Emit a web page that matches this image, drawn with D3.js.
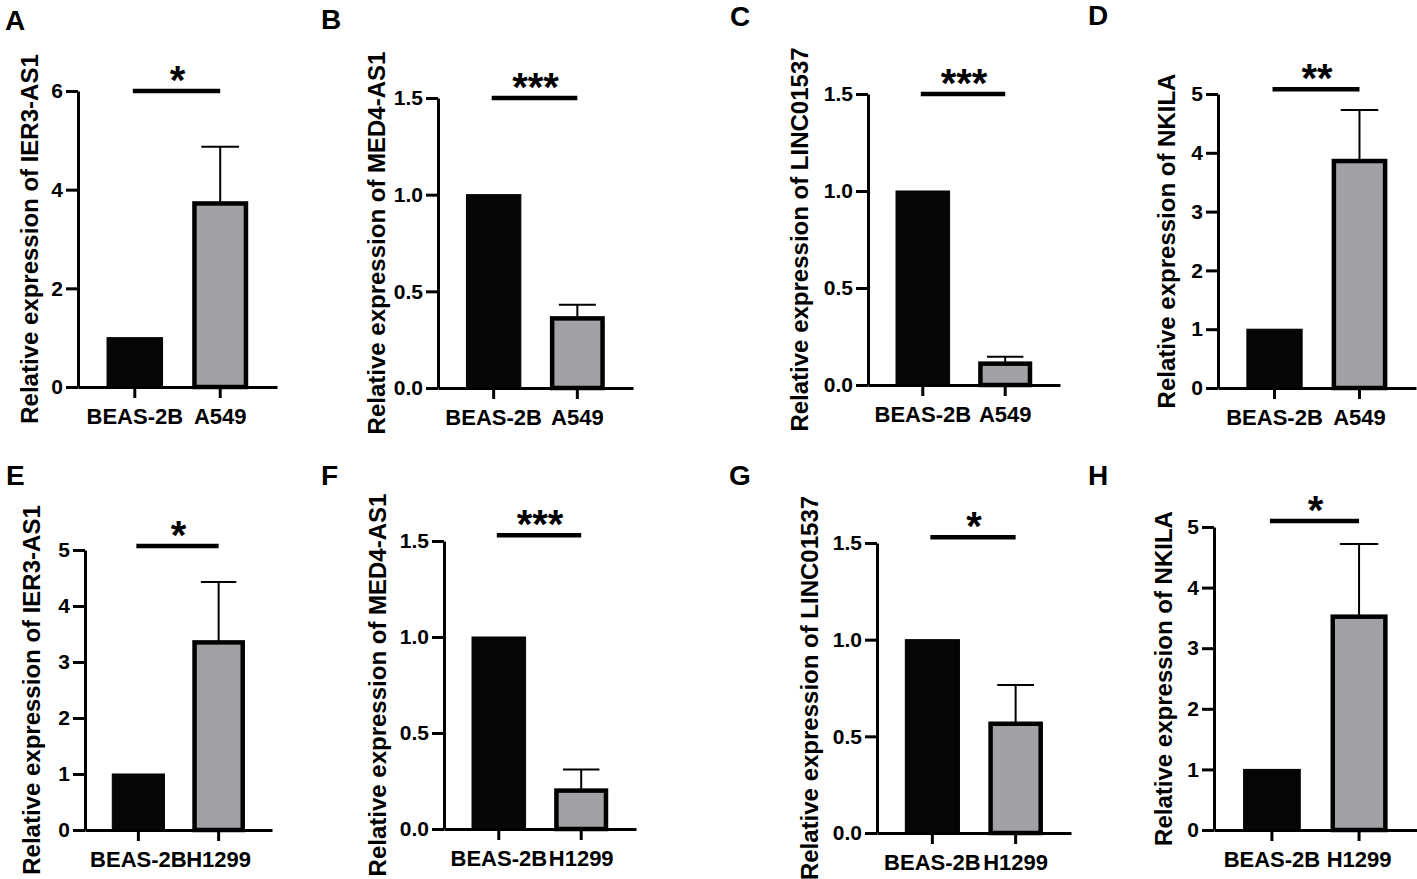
<!DOCTYPE html>
<html>
<head>
<meta charset="utf-8">
<script src="https://cdn.jsdelivr.net/npm/d3@7"></script>
<style>
  body { margin: 0; background: #fff; }
  svg { display: block; font-family: "Liberation Sans", Arial, Helvetica, sans-serif; font-weight: bold; }
</style>
</head>
<body>
<div id="figure"></div>
<script>
// values
const panelLetters = ['A', 'B', 'C', 'D', 'E', 'F', 'G', 'H'];
const geneNames = ['IER3-AS1', 'MED4-AS1', 'LINC01537', 'NKILA', 'IER3-AS1', 'MED4-AS1', 'LINC01537', 'NKILA'];
const controlLine = 'BEAS-2B';
const cancerLines = ['A549', 'A549', 'A549', 'A549', 'H1299', 'H1299', 'H1299', 'H1299'];
const controlMeans = [1, 1, 1, 1, 1, 1, 1, 1];
const cancerMeans = [3.72, 0.36, 0.11, 3.86, 3.35, 0.20, 0.565, 3.52];
const cancerErrors = [1.15, 0.07, 0.035, 0.87, 1.08, 0.11, 0.20, 1.20];
const yMaxes = [6, 1.5, 1.5, 5, 5, 1.5, 1.5, 5];
const yTickValues = [
  [0, 2, 4, 6],
  [0, 0.5, 1, 1.5],
  [0, 0.5, 1, 1.5],
  [0, 1, 2, 3, 4, 5],
  [0, 1, 2, 3, 4, 5],
  [0, 0.5, 1, 1.5],
  [0, 0.5, 1, 1.5],
  [0, 1, 2, 3, 4, 5],
];
const sigMarks = ['*', '***', '***', '**', '*', '***', '*', '*'];
const sigHeights = [6, 1.5, 1.5, 5.08, 5.07, 1.53, 1.53, 5.1];

// where each panel sits on the page
const panelLayout = [
  { x: 78,   y0: 387, yTop: 91,  w: 199, titleX: 30,   letterX: 5,    letterY: 30 },
  { x: 438,  y0: 388, yTop: 98,  w: 195, titleX: 377,  letterX: 321,  letterY: 29 },
  { x: 868,  y0: 385, yTop: 94,  w: 192, titleX: 800,  letterX: 730,  letterY: 26 },
  { x: 1218, y0: 388, yTop: 94,  w: 198, titleX: 1167, letterX: 1088, letterY: 25 },
  { x: 85,   y0: 830, yTop: 550, w: 187, titleX: 32,   letterX: 6,    letterY: 485 },
  { x: 444,  y0: 829, yTop: 541, w: 192, titleX: 378,  letterX: 321,  letterY: 485 },
  { x: 877,  y0: 833, yTop: 543, w: 194, titleX: 810,  letterX: 729,  letterY: 485 },
  { x: 1214, y0: 830, yTop: 527, w: 203, titleX: 1164, letterX: 1088, letterY: 485 },
];

const width = 1417;
const height = 879;
const blackFill = '#060606';
const grayFill = '#a1a1a6';

const svg = d3.select('#figure').append('svg')
    .attr('width', width)
    .attr('height', height);

panelLetters.forEach((letter, i) => drawPanel(svg, i));

function drawPanel(svg, i) {
  const lay = panelLayout[i];
  const categories = [controlLine, cancerLines[i]];
  const values = [controlMeans[i], cancerMeans[i]];

  const xScale = d3.scaleBand()
      .domain(categories)
      .range([lay.x, lay.x + lay.w])
      .paddingInner(0.35)
      .paddingOuter(0.34);
  const yScale = d3.scaleLinear()
      .domain([0, yMaxes[i]])
      .range([lay.y0, lay.yTop]);

  const g = svg.append('g').attr('class', 'panel-' + panelLetters[i]);
  const bw = xScale.bandwidth();
  const cx = c => xScale(c) + bw / 2;

  // error bar (upper only) on the cancer line bar
  const errTop = cancerMeans[i] + cancerErrors[i];
  const capHalf = bw * 0.34;
  g.append('line')
      .attr('x1', cx(categories[1]))
      .attr('x2', cx(categories[1]))
      .attr('y1', yScale(cancerMeans[i]))
      .attr('y2', yScale(errTop))
      .attr('stroke', '#000')
      .attr('stroke-width', 2);
  g.append('line')
      .attr('x1', cx(categories[1]) - capHalf)
      .attr('x2', cx(categories[1]) + capHalf)
      .attr('y1', yScale(errTop))
      .attr('y2', yScale(errTop))
      .attr('stroke', '#000')
      .attr('stroke-width', 2);

  // bars
  g.selectAll('rect.bar')
    .data(categories.map((c, k) => ({ cat: c, val: values[k], k: k })))
    .enter().append('rect')
      .attr('class', 'bar')
      .attr('x', d => d.k === 0 ? xScale(d.cat) : xScale(d.cat) + 2)
      .attr('width', d => d.k === 0 ? bw : bw - 4)
      .attr('y', d => yScale(d.val))
      .attr('height', d => yScale(0) - yScale(d.val))
      .attr('fill', d => d.k === 0 ? blackFill : grayFill)
      .attr('stroke', '#000')
      .attr('stroke-width', d => d.k === 0 ? 1 : 4.5);

  // axes
  const fmt = yMaxes[i] < 2 ? d3.format('.1f') : d3.format('d');
  const yAxis = d3.axisLeft(yScale)
      .tickValues(yTickValues[i])
      .tickFormat(fmt)
      .tickSizeOuter(0)
      .tickSizeInner(12)
      .tickPadding(3);
  const xAxis = d3.axisBottom(xScale)
      .tickSizeOuter(0)
      .tickSizeInner(11)
      .tickPadding(10);

  const gy = g.append('g')
      .attr('transform', `translate(${lay.x}, 0)`)
      .call(yAxis);
  const gx = g.append('g')
      .attr('transform', `translate(0, ${lay.y0})`)
      .call(xAxis);

  [gx, gy].forEach(ax => {
    ax.select('.domain').attr('stroke', '#000').attr('stroke-width', 3);
    ax.selectAll('.tick line').attr('stroke', '#000').attr('stroke-width', 3);
    ax.selectAll('.tick text')
        .attr('fill', '#000')
        .style('font-family', '"Liberation Sans", Arial, sans-serif')
        .style('font-weight', 'bold');
  });
  gy.selectAll('.tick text').style('font-size', '21px');
  gx.selectAll('.tick text').style('font-size', '22px');

  // y title
  g.append('text')
      .text('Relative expression of ' + geneNames[i])
      .attr('transform', `translate(${lay.titleX}, ${(lay.y0 + lay.yTop) / 2}) rotate(-90)`)
      .attr('dy', '0.35em')
      .style('text-anchor', 'middle')
      .style('font-size', '24px');

  // significance bracket
  const sy = yScale(sigHeights[i]);
  g.append('line')
      .attr('x1', cx(categories[0]) - 2)
      .attr('x2', cx(categories[1]))
      .attr('y1', sy)
      .attr('y2', sy)
      .attr('stroke', '#000')
      .attr('stroke-width', 4.5);
  g.append('text')
      .text(sigMarks[i])
      .attr('x', (cx(categories[0]) + cx(categories[1])) / 2)
      .attr('y', sy + 3)
      .style('text-anchor', 'middle')
      .style('font-size', '40px');

  // panel letter
  g.append('text')
      .text(panelLetters[i])
      .attr('x', lay.letterX)
      .attr('y', lay.letterY)
      .style('font-size', '28px');
}
</script>
</body>
</html>
